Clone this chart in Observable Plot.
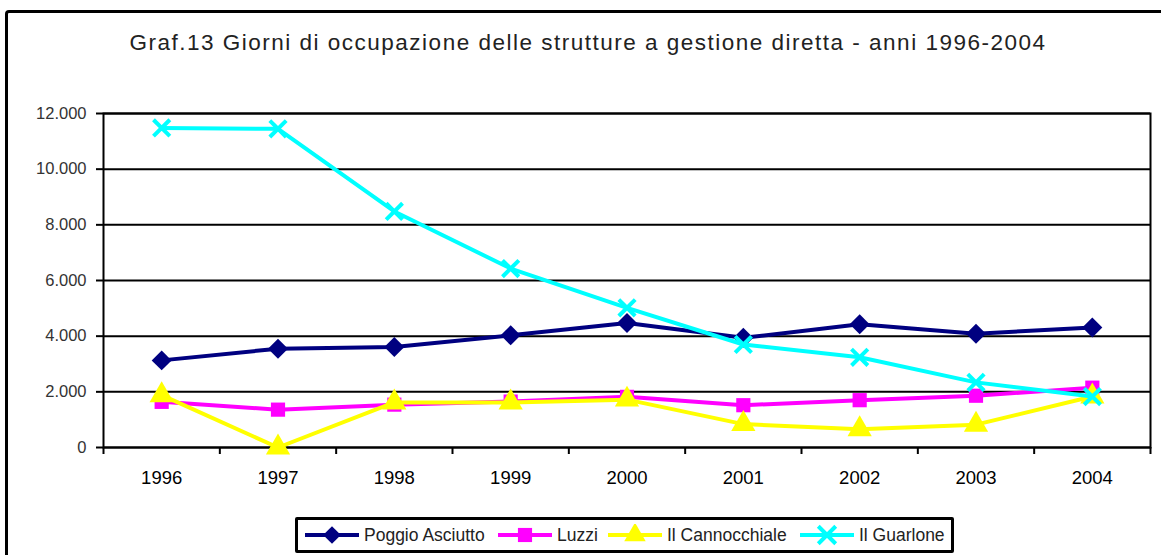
<!DOCTYPE html>
<html><head><meta charset="utf-8">
<script src="https://cdn.jsdelivr.net/npm/d3@7"></script>
<script src="https://cdn.jsdelivr.net/npm/@observablehq/plot@0.6"></script>
<style>
body{margin:0;background:#fff;}
#wrap{position:relative;width:1161px;height:555px;overflow:hidden;font-family:"Liberation Sans",Arial,sans-serif;background:#fff;}
#frame{position:absolute;left:5px;top:10px;width:1200px;height:600px;border:3px solid #000;border-radius:4px;box-sizing:border-box;}
#title{position:absolute;top:30px;left:0;width:1176px;text-align:center;font-size:22.5px;color:#222;letter-spacing:1.5px;white-space:nowrap;}
#chart{position:absolute;left:0;top:0;}
#legend{position:absolute;left:295px;top:517px;width:659px;height:36px;border:3px solid #000;box-sizing:border-box;border-radius:2px;background:#fff;}
.item{position:absolute;top:4px;height:22px;display:flex;align-items:center;white-space:nowrap;font-size:17.5px;color:#222;}
.item svg{margin-right:5px;flex-shrink:0;}
</style></head>
<body><div id="wrap"><div id="frame"></div><div id="title"></div><div id="chart"></div><div id="legend"></div></div>
<script>
const titleText = "Graf.13 Giorni di occupazione delle strutture a gestione diretta - anni 1996-2004";
const years = [1996, 1997, 1998, 1999, 2000, 2001, 2002, 2003, 2004];
const yTicks = [0, 2000, 4000, 6000, 8000, 10000, 12000];
const seriesNames = ["Poggio Asciutto", "Luzzi", "Il Cannocchiale", "Il Guarlone"];
const seriesColors = ["#000080", "#FF00FF", "#FFFF00", "#00FFFF"];
const seriesSymbols = ["diamond2", "square", "triangle", "times"];
const poggioAsciutto = [3130, 3550, 3610, 4030, 4470, 3940, 4430, 4090, 4310];
const luzzi = [1640, 1360, 1540, 1650, 1820, 1520, 1700, 1860, 2150];
const cannocchiale = [1880, 0, 1620, 1620, 1720, 840, 660, 820, 1830];
const guarlone = [11480, 11450, 8480, 6430, 5020, 3700, 3240, 2340, 1830];
const seriesValues = [poggioAsciutto, luzzi, cannocchiale, guarlone];

document.getElementById("title").textContent = titleText;

const data = [];
seriesNames.forEach((s, i) => years.forEach((y, j) => data.push({series: s, year: y, value: seriesValues[i][j], idx: i})));
const boundaries = [...years.map(y => y - 0.5), years[years.length - 1] + 0.5];
const loc = d3.formatLocale({decimal: ",", thousands: ".", grouping: [3], currency: ["", "€"]});
const fmt = loc.format(",d");

const marks = [
  Plot.gridY(yTicks, {stroke: "#000", strokeOpacity: 1, strokeWidth: 2}),
  Plot.frame({stroke: "#000", strokeWidth: 2}),
  Plot.axisY(yTicks, {label: null, tickSize: 7, tickPadding: 10, tickFormat: fmt, fontSize: 16.5, fill: "#333", stroke: "#000", strokeWidth: 2}),
  Plot.axisX(boundaries, {label: null, tickSize: 7, tickFormat: () => "", strokeWidth: 2}),
  Plot.axisX(years, {label: null, tickSize: 0, tickPadding: 23, tickFormat: d => String(d), fontSize: 18.5, fill: "#000"})
];
seriesNames.forEach((s, i) => {
  const d = data.filter(r => r.series === s);
  marks.push(Plot.line(d, {x: "year", y: "value", stroke: seriesColors[i], strokeWidth: 4}));
  if (seriesSymbols[i] === "times") {
    marks.push(Plot.dot(d, {x: "year", y: "value", symbol: "times", r: 7.5, stroke: seriesColors[i], strokeWidth: 4}));
  } else {
    marks.push(Plot.dot(d, {x: "year", y: "value", symbol: seriesSymbols[i], r: seriesSymbols[i] === "square" ? 8 : 9, fill: seriesColors[i], stroke: "none"}));
  }
});

const chart = Plot.plot({
  width: 1161, height: 500,
  marginLeft: 103, marginRight: 11, marginTop: 113, marginBottom: 53,
  style: {background: "transparent", fontFamily: "'Liberation Sans', Arial, sans-serif"},
  x: {domain: [boundaries[0], boundaries[boundaries.length - 1]], axis: null, label: null},
  y: {domain: [0, 12000], axis: null, label: null},
  marks
});
document.getElementById("chart").appendChild(chart);

// legend item left positions (relative to legend content box)
const legendLeft = [7, 200, 310, 502];
const legend = d3.select("#legend");
seriesNames.forEach((s, i) => {
  const it = legend.append("div").attr("class", "item").style("left", legendLeft[i] + "px");
  const svg = it.append("svg").attr("width", 54).attr("height", 22);
  svg.append("line").attr("x1", 0).attr("x2", 54).attr("y1", 11).attr("y2", 11).attr("stroke", seriesColors[i]).attr("stroke-width", 4);
  const symMap = {diamond2: d3.symbolDiamond2, square: d3.symbolSquare, triangle: d3.symbolTriangle, times: d3.symbolTimes};
  const p = svg.append("path").attr("transform", "translate(27,11)").attr("d", d3.symbol(symMap[seriesSymbols[i]], 200)());
  if (seriesSymbols[i] === "times") p.attr("fill", "none").attr("stroke", seriesColors[i]).attr("stroke-width", 4);
  else p.attr("fill", seriesColors[i]);
  it.append("span").text(s);
});
</script></body></html>
